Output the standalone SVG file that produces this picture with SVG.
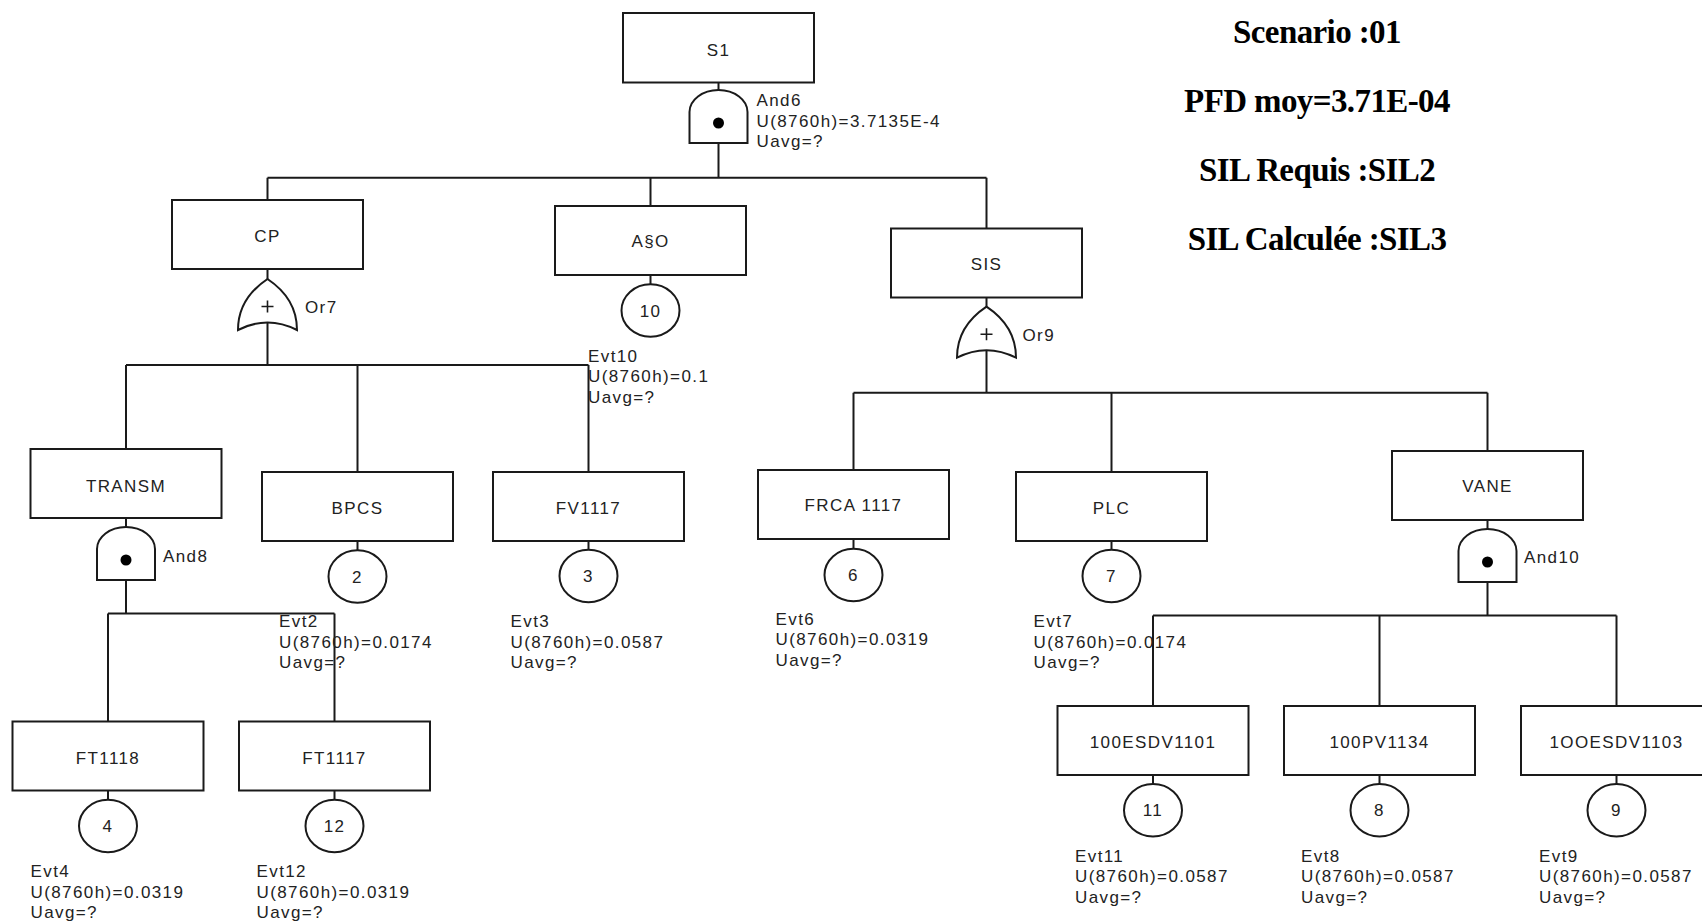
<svg xmlns="http://www.w3.org/2000/svg" xmlns:xlink="http://www.w3.org/1999/xlink" width="1702" height="923" viewBox="0 0 1702 923">
  <style>
    .box { fill: #fff; stroke: #1a1a1a; stroke-width: 2; }
    .gate { fill: #fff; stroke: #1a1a1a; stroke-width: 2; }
    .evt { fill: #fff; stroke: #1a1a1a; stroke-width: 2; }
    .wire { fill: none; stroke: #1a1a1a; stroke-width: 2; }
    .lbl { font-family: "Liberation Sans", Arial, sans-serif; font-size: 17px; letter-spacing: 1.4px; fill: #222; }
    .mid { text-anchor: middle; }
    .big { font-family: "Liberation Serif", "Times New Roman", serif; font-weight: bold; font-size: 33px; letter-spacing: -0.6px; text-anchor: middle; fill: #000; }
  </style>
  <defs>
    <!-- AND gate, origin at top centre -->
    <g id="and-shape">
      <path class="gate" d="M-29,53 L-29,22 A29 22 0 0 1 29,22 L29,53 Z"/>
      <circle cx="0" cy="33" r="5.5" fill="#000"/>
    </g>
    <!-- OR gate, origin at top centre -->
    <g id="or-shape">
      <path class="gate" d="M-29.5,51 C-29.5,29 -18,12 0,0 C18,12 29.5,29 29.5,51 Q0,36 -29.5,51 Z"/>
      <path d="M-6,27.5 H6 M0,21.5 V33.5" stroke="#1a1a1a" stroke-width="1.6" fill="none"/>
    </g>
  </defs>

  <rect width="1702" height="923" fill="#fff"/>

  <!-- connectors -->
  <g id="connectors" class="wire">
    <!-- S1 / And6 -->
    <path d="M718.5,82.5 V90 M718.5,143 V177.7"/>
    <path d="M267.5,177.7 H986.5 M267.5,177.7 V200 M650.5,177.7 V206 M986.5,177.7 V228.5"/>
    <!-- CP / Or7 -->
    <path d="M267.5,269 V279 M267.5,323 V365"/>
    <path d="M126,365 H588.5 M126,365 V449 M357.5,365 V472 M588.5,365 V472"/>
    <!-- A§O / event 10 -->
    <path d="M650.5,275 V284.3"/>
    <!-- SIS / Or9 -->
    <path d="M986.5,297.5 V306.7 M986.5,350 V392.7"/>
    <path d="M853.5,392.7 H1487.5 M853.5,392.7 V470 M1111.5,392.7 V472 M1487.5,392.7 V451"/>
    <!-- basic events under level-2 boxes -->
    <path d="M357.5,541 V550.3 M588.5,541 V550 M853.5,539 V548.8 M1111.5,541 V550"/>
    <!-- TRANSM / And8 -->
    <path d="M126,518 V527 M126,580 V613.5"/>
    <path d="M108,613.5 H334.5 M108,613.5 V721.5 M334.5,613.5 V721.5"/>
    <path d="M108,790.5 V799.8 M334.5,790.5 V800"/>
    <!-- VANE / And10 -->
    <path d="M1487.5,520 V529 M1487.5,582 V615.5"/>
    <path d="M1153,615.5 H1616.5 M1153,615.5 V706 M1379.5,615.5 V706 M1616.5,615.5 V706"/>
    <path d="M1153,775 V784.3 M1379.5,775 V784.3 M1616.5,775 V784.3"/>
  </g>

  <!-- top event -->
  <g id="S1">
    <rect class="box" x="623" y="13" width="191" height="69.5"/>
    <text class="lbl mid" x="718.5" y="56">S1</text>
  </g>
  <g id="And6">
    <use xlink:href="#and-shape" href="#and-shape" x="718.5" y="90"/>
    <text class="lbl" x="756.5" y="106">And6<tspan x="756.5" dy="20.5">U(8760h)=3.7135E-4</tspan><tspan x="756.5" dy="20.5">Uavg=?</tspan></text>
  </g>

  <!-- CP branch -->
  <g id="CP">
    <rect class="box" x="172" y="200" width="191" height="69"/>
    <text class="lbl mid" x="267.5" y="242">CP</text>
  </g>
  <g id="Or7">
    <use xlink:href="#or-shape" href="#or-shape" x="267.5" y="279"/>
    <text class="lbl" x="305" y="313">Or7</text>
  </g>
  <g id="TRANSM">
    <rect class="box" x="30.5" y="449" width="191" height="69"/>
    <text class="lbl mid" x="126" y="492">TRANSM</text>
  </g>
  <g id="And8">
    <use xlink:href="#and-shape" href="#and-shape" x="126" y="527"/>
    <text class="lbl" x="163" y="562">And8</text>
  </g>
  <g id="FT1118">
    <rect class="box" x="12.5" y="721.5" width="191" height="69"/>
    <text class="lbl mid" x="108" y="764">FT1118</text>
  </g>
  <g id="Evt4">
    <ellipse class="evt" cx="108" cy="826" rx="29" ry="26.2"/>
    <text class="lbl mid" x="108" y="832">4</text>
    <text class="lbl" x="30.5" y="877">Evt4<tspan x="30.5" dy="20.7">U(8760h)=0.0319</tspan><tspan x="30.5" dy="20.7">Uavg=?</tspan></text>
  </g>
  <g id="FT1117">
    <rect class="box" x="239" y="721.5" width="191" height="69"/>
    <text class="lbl mid" x="334.5" y="764">FT1117</text>
  </g>
  <g id="Evt12">
    <ellipse class="evt" cx="334.5" cy="826" rx="29" ry="26.2"/>
    <text class="lbl mid" x="334.5" y="832">12</text>
    <text class="lbl" x="256.5" y="877">Evt12<tspan x="256.5" dy="20.7">U(8760h)=0.0319</tspan><tspan x="256.5" dy="20.7">Uavg=?</tspan></text>
  </g>
  <g id="BPCS">
    <rect class="box" x="262" y="472" width="191" height="69"/>
    <text class="lbl mid" x="357.5" y="514">BPCS</text>
  </g>
  <g id="Evt2">
    <ellipse class="evt" cx="357.5" cy="576.5" rx="29" ry="26.2"/>
    <text class="lbl mid" x="357.5" y="582.5">2</text>
    <text class="lbl" x="279" y="627">Evt2<tspan x="279" dy="20.7">U(8760h)=0.0174</tspan><tspan x="279" dy="20.7">Uavg=?</tspan></text>
  </g>
  <g id="FV1117">
    <rect class="box" x="493" y="472" width="191" height="69"/>
    <text class="lbl mid" x="588.5" y="514">FV1117</text>
  </g>
  <g id="Evt3">
    <ellipse class="evt" cx="588.5" cy="576" rx="29" ry="26.2"/>
    <text class="lbl mid" x="588.5" y="582">3</text>
    <text class="lbl" x="510.5" y="627">Evt3<tspan x="510.5" dy="20.7">U(8760h)=0.0587</tspan><tspan x="510.5" dy="20.7">Uavg=?</tspan></text>
  </g>

  <!-- A§O branch -->
  <g id="AsO">
    <rect class="box" x="555" y="206" width="191" height="69"/>
    <text class="lbl mid" x="650.5" y="247">A§O</text>
  </g>
  <g id="Evt10">
    <ellipse class="evt" cx="650.5" cy="310.5" rx="29" ry="26.2"/>
    <text class="lbl mid" x="650.5" y="316.5">10</text>
    <text class="lbl" x="588" y="361.5">Evt10<tspan x="588" dy="20.7">U(8760h)=0.1</tspan><tspan x="588" dy="20.7">Uavg=?</tspan></text>
  </g>

  <!-- SIS branch -->
  <g id="SIS">
    <rect class="box" x="891" y="228.5" width="191" height="69"/>
    <text class="lbl mid" x="986.5" y="270">SIS</text>
  </g>
  <g id="Or9">
    <use xlink:href="#or-shape" href="#or-shape" x="986.5" y="306.7"/>
    <text class="lbl" x="1022.5" y="341">Or9</text>
  </g>
  <g id="FRCA1117">
    <rect class="box" x="758" y="470" width="191" height="69"/>
    <text class="lbl mid" x="853.5" y="510.5">FRCA 1117</text>
  </g>
  <g id="Evt6">
    <ellipse class="evt" cx="853.5" cy="575" rx="29" ry="26.2"/>
    <text class="lbl mid" x="853.5" y="581">6</text>
    <text class="lbl" x="775.5" y="624.5">Evt6<tspan x="775.5" dy="20.7">U(8760h)=0.0319</tspan><tspan x="775.5" dy="20.7">Uavg=?</tspan></text>
  </g>
  <g id="PLC">
    <rect class="box" x="1016" y="472" width="191" height="69"/>
    <text class="lbl mid" x="1111.5" y="514">PLC</text>
  </g>
  <g id="Evt7">
    <ellipse class="evt" cx="1111.5" cy="576" rx="29" ry="26.2"/>
    <text class="lbl mid" x="1111.5" y="582">7</text>
    <text class="lbl" x="1033.5" y="627">Evt7<tspan x="1033.5" dy="20.7">U(8760h)=0.0174</tspan><tspan x="1033.5" dy="20.7">Uavg=?</tspan></text>
  </g>
  <g id="VANE">
    <rect class="box" x="1392" y="451" width="191" height="69"/>
    <text class="lbl mid" x="1487.5" y="492">VANE</text>
  </g>
  <g id="And10">
    <use xlink:href="#and-shape" href="#and-shape" x="1487.5" y="529"/>
    <text class="lbl" x="1524" y="563">And10</text>
  </g>
  <g id="ESDV1101">
    <rect class="box" x="1057.5" y="706" width="191" height="69"/>
    <text class="lbl mid" x="1153" y="748">100ESDV1101</text>
  </g>
  <g id="Evt11">
    <ellipse class="evt" cx="1153" cy="810.3" rx="29" ry="26.2"/>
    <text class="lbl mid" x="1153" y="816.3">11</text>
    <text class="lbl" x="1075" y="862">Evt11<tspan x="1075" dy="20.3">U(8760h)=0.0587</tspan><tspan x="1075" dy="20.3">Uavg=?</tspan></text>
  </g>
  <g id="PV1134">
    <rect class="box" x="1284" y="706" width="191" height="69"/>
    <text class="lbl mid" x="1379.5" y="748">100PV1134</text>
  </g>
  <g id="Evt8">
    <ellipse class="evt" cx="1379.5" cy="810.3" rx="29" ry="26.2"/>
    <text class="lbl mid" x="1379.5" y="816.3">8</text>
    <text class="lbl" x="1301" y="862">Evt8<tspan x="1301" dy="20.3">U(8760h)=0.0587</tspan><tspan x="1301" dy="20.3">Uavg=?</tspan></text>
  </g>
  <g id="ESDV1103">
    <rect class="box" x="1521" y="706" width="191" height="69"/>
    <text class="lbl mid" x="1616.5" y="748">1OOESDV1103</text>
  </g>
  <g id="Evt9">
    <ellipse class="evt" cx="1616.5" cy="810.3" rx="29" ry="26.2"/>
    <text class="lbl mid" x="1616.5" y="816.3">9</text>
    <text class="lbl" x="1539" y="862">Evt9<tspan x="1539" dy="20.3">U(8760h)=0.0587</tspan><tspan x="1539" dy="20.3">Uavg=?</tspan></text>
  </g>

  <!-- scenario summary -->
  <g id="summary">
    <text class="big" x="1317" y="43">Scenario :01</text>
    <text class="big" x="1317" y="112">PFD moy=3.71E-04</text>
    <text class="big" x="1317" y="181">SIL Requis :SIL2</text>
    <text class="big" x="1317" y="250">SIL Calculée :SIL3</text>
  </g>
</svg>
